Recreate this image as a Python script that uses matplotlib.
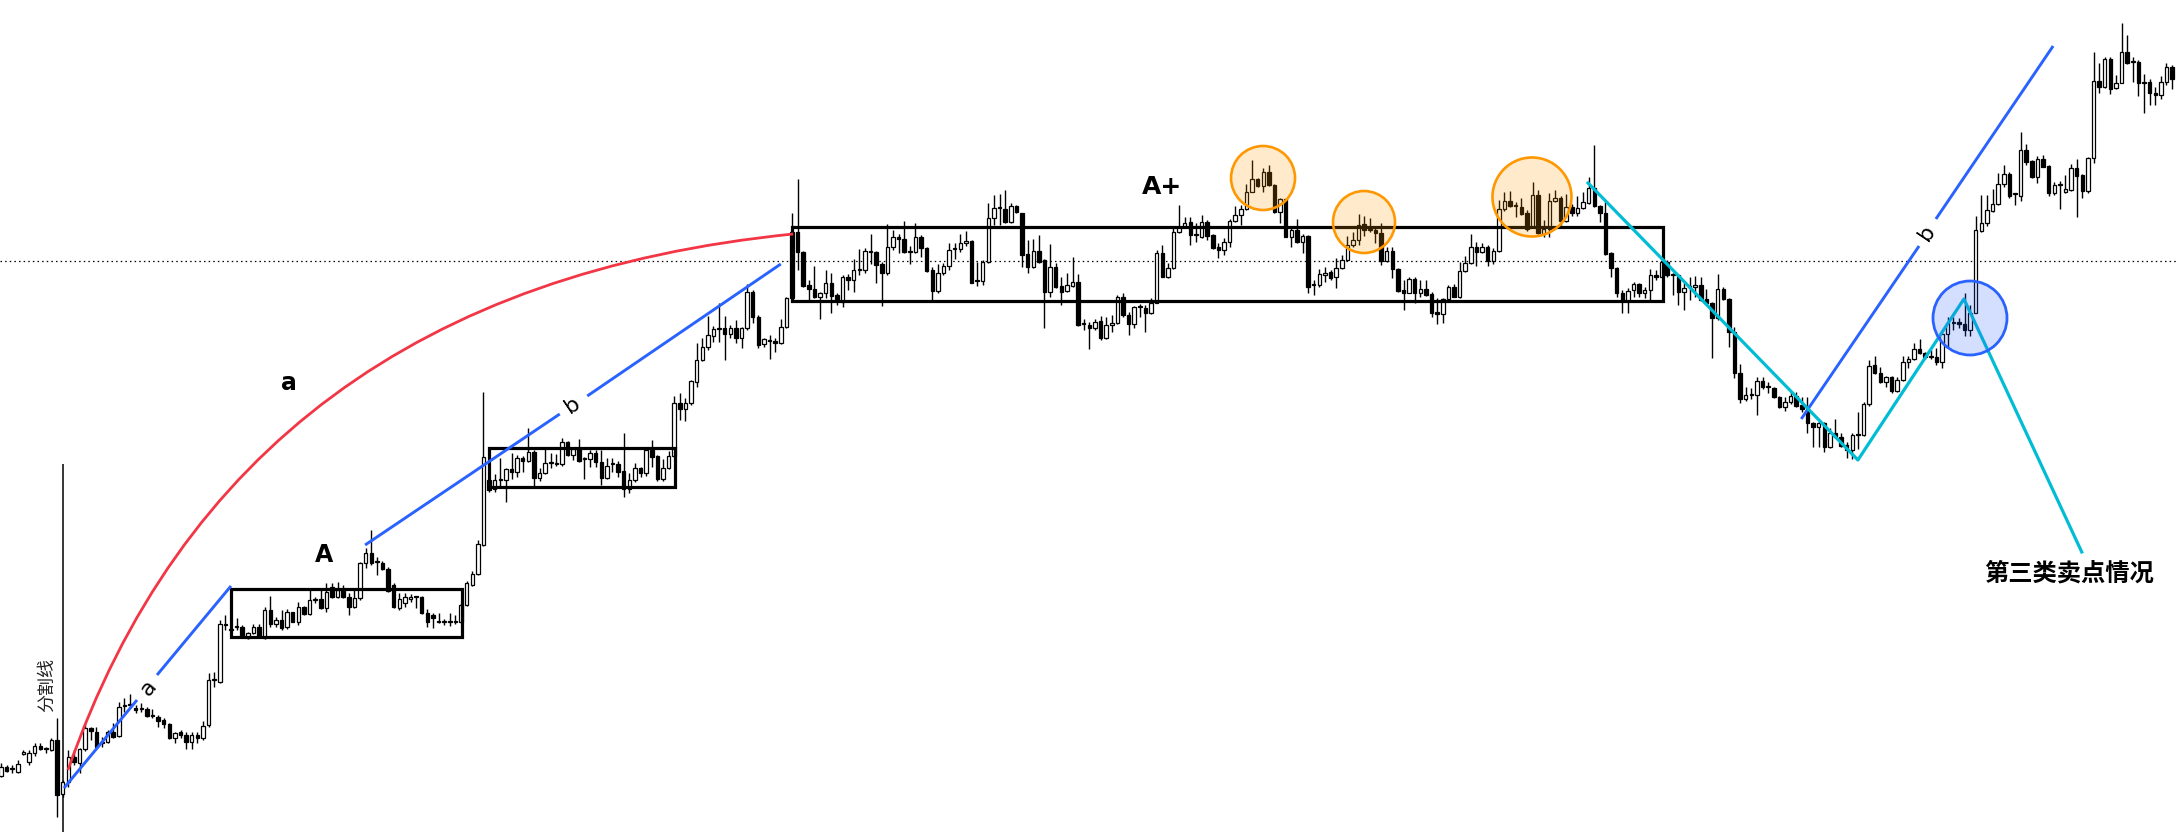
import numpy as np
import matplotlib
matplotlib.use("Agg")
import matplotlib.pyplot as plt
from matplotlib.patches import Rectangle, Ellipse, PathPatch
from matplotlib.path import Path

# candle data (arbitrary price units), one entry per bar
opens = [124,133,131,128,146,138,147,154,151,150, 160,106,118,143,137,151,172,168,157,158,
         168,164,194,195,192,191,191,184,183,180, 176,162,168,165,158,165,162,175,220,218,
         275,270,273,273,262,267,273,262,290,276, 280,273,288,278,293,286,300,301,292,313,
         303,310,303,293,302,337,347,338,337,331, 315,292,297,301,303,303,287,285,278,278,
         278,278,278,295,315,326,355,420,411,420, 420,431,428,442,439,448,422,427,437,436,
         436,458,445,451,441,441,447,438,422,436, 436,429,411,420,432,427,450,444,421,432,
         444,497,491,497,518,540,553,564,571,572, 566,572,562,572,608,583,556,559,559,557,
         573,602,668,648,615,611,603,607,617,605, 598,623,620,630,630,648,648,636,627,653,
         663,661,648,648,663,652,630,609,627,634, 651,651,657,659,619,619,638,682,692,691,
         678,694,687,646,633,649,640,608,633,614, 609,614,618,576,575,572,579,562,575,577,
         603,585,576,593,592,587,597,647,623,632, 668,673,678,665,663,678,665,653,650,658,
         679,685,691,708,721,714,728,715,688,701, 663,670,658,664,615,615,625,628,623,632,
         640,655,660,676,670,670,667,639,649,631, 610,607,621,607,611,606,588,586,601,613,
         603,629,637,653,648,653,639,649,691,699, 694,693,687,673,705,666,671,699,702,679,
         693,687,692,697,712,694,687,647,632,607, 599,610,616,607,610,625,623,638,625,625,
         608,613,613,615,601,597,582,611,601,568, 527,501,505,505,519,513,512,503,493,498,
         504,495,491,477,473,477,453,467,463,455, 450,465,465,496,535,527,518,523,509,520,
         538,541,551,547,543,543,538,566,577,578, 576,570,587,669,677,689,696,716,726,706,
         704,750,739,723,741,734,707,715,708,710, 732,725,709,742,819,813,841,812,817,848,
         838,838,817,818,807,805,818,833]
highs = [137,135,135,140,150,150,157,157,153,162, 182,120,150,150,152,177,173,173,163,170,
         177,198,202,206,195,197,193,191,185,182, 177,168,170,168,168,168,179,227,228,280,
         285,275,282,275,268,276,276,293,304,283, 290,291,288,298,294,310,303,310,317,317,
         318,315,307,310,338,352,370,343,339,333, 317,307,307,306,304,304,291,287,287,281,
         287,285,297,319,329,360,508,422,426,442, 432,447,445,444,472,450,432,451,447,446,
         462,459,452,461,443,450,450,450,442,442, 439,467,427,437,433,452,460,445,441,449,
         504,507,502,520,557,562,584,574,597,584, 575,580,573,616,610,585,562,565,562,581,
         603,687,721,649,620,634,608,630,627,607, 625,626,641,651,652,666,649,638,676,670,
         666,679,654,677,665,653,633,636,637,657, 657,666,669,660,638,640,697,705,706,710,
         697,695,687,660,661,665,641,656,637,623, 627,643,626,581,578,581,584,583,585,605,
         607,588,594,596,595,602,650,655,637,672, 695,683,683,677,685,680,666,657,662,681,
         694,695,716,740,722,732,735,716,702,702, 673,681,666,665,620,631,633,630,642,645,
         664,668,686,684,682,674,677,653,653,632, 620,623,623,620,620,608,602,602,615,616,
         638,644,666,658,657,655,652,700,708,709, 698,702,690,718,710,680,707,710,704,706,
         696,704,708,723,755,695,698,648,633,610, 612,618,617,613,631,630,639,640,627,626,
         617,623,624,623,611,598,626,613,602,573, 536,513,512,523,523,518,513,504,503,508,
         508,503,503,478,480,478,472,481,467,458, 467,488,498,540,544,533,524,524,523,544,
         544,557,561,548,550,552,567,583,583,582, 607,595,684,705,705,711,727,735,728,707,
         768,756,740,744,745,735,718,719,725,736, 741,726,743,848,837,843,843,825,877,865,
         843,840,826,821,813,824,837,835]
lows = [123,128,127,127,145,135,144,150,147,149, 83,103,113,135,127,149,160,153,153,157,
        162,163,188,193,187,188,183,182,173,172, 161,157,162,151,151,157,160,173,213,217,
        270,267,270,263,261,266,262,261,273,273, 270,271,278,275,285,285,297,291,288,302,
        302,302,285,292,300,332,335,325,330,308, 292,290,293,298,292,286,273,272,277,275,
        274,276,277,294,314,325,354,408,408,414, 398,421,423,428,438,412,419,426,432,434,
        434,444,440,438,421,433,433,415,421,428, 423,403,407,418,423,424,433,419,419,431,
        443,480,479,495,513,539,550,558,558,540, 562,557,552,570,577,552,553,541,548,556,
        572,601,630,613,600,602,581,602,587,595, 593,610,608,625,627,636,617,594,625,650,
        647,647,636,647,643,628,600,607,625,630, 641,648,654,617,614,615,637,675,675,677,
        677,687,633,627,632,637,572,603,612,595, 608,613,574,570,551,570,560,561,568,576,
        583,565,572,583,568,586,597,623,622,631, 667,673,655,658,662,660,651,642,645,653,
        678,675,690,708,713,708,714,687,677,663, 653,657,647,607,605,613,618,620,612,631,
        639,653,655,664,668,657,635,638,622,608, 590,607,597,603,604,583,576,577,599,603,
        602,628,636,634,647,634,636,648,689,693, 683,685,669,673,666,663,663,698,675,678,
        684,684,691,696,693,678,645,623,603,587, 587,603,603,602,600,620,623,623,605,595,
        590,600,603,599,595,542,580,600,553,522, 497,499,501,485,511,507,502,492,489,496,
        493,488,467,453,453,448,452,462,453,442, 441,451,464,494,526,517,513,507,508,519,
        532,540,546,541,541,535,532,553,570,572, 564,564,587,668,674,688,695,713,702,695,
        699,735,722,717,733,704,705,691,707,709, 683,702,707,737,807,812,806,811,817,836,
        818,804,787,795,795,801,815,811]
closes = [133,129,131,136,148,147,154,151,151,160, 105,118,143,138,151,172,169,153,157,168,
          163,193,194,195,190,191,184,184,179,176, 162,167,165,158,165,162,174,220,220,276,
          275,270,273,264,267,273,263,290,276,280, 272,288,278,293,286,300,300,292,308,303,
          310,303,293,302,337,347,337,338,331,309, 293,301,303,303,303,287,278,282,278,278,
          278,278,295,317,326,356,443,410,420,420, 431,428,442,439,448,422,427,437,437,436,
          458,445,451,439,441,447,438,422,434,436, 428,411,420,432,427,450,443,421,432,444,
          497,491,497,519,540,553,565,571,571,566, 572,562,572,608,583,555,561,559,557,573,
          602,668,648,614,611,603,607,617,604,600, 623,620,630,630,649,648,635,627,653,663,
          661,648,648,663,652,629,609,627,634,650, 651,657,659,617,619,638,682,692,692,678,
          694,688,645,633,649,638,608,633,613,608, 615,618,575,576,572,578,562,575,577,603,
          585,576,593,593,587,597,647,623,632,668, 673,677,665,665,678,664,652,650,658,679,
          685,691,708,721,714,728,715,688,701,663, 670,658,664,613,615,626,627,622,632,640,
          655,660,675,670,670,667,639,649,631,609, 607,621,607,611,605,587,586,601,613,603,
          629,637,653,648,653,639,649,691,699,694, 694,686,671,705,667,671,699,702,679,693,
          687,692,698,712,694,687,646,632,607,599, 609,616,607,610,625,623,638,625,625,608,
          612,613,615,600,597,582,611,601,568,527, 501,505,505,519,513,513,503,493,498,504,
          494,491,477,473,477,453,467,463,454,450, 465,465,496,534,527,518,523,509,520,538,
          541,551,547,543,543,538,566,577,577,576, 570,587,670,677,690,696,716,726,704,706,
          750,738,723,741,733,707,715,715,711,732, 724,709,742,819,813,841,811,817,848,837,
          838,817,817,807,805,818,833,821]

PX = 5.61  # pixels per bar at the chosen size

fig = plt.figure(figsize=(21.76, 8.32), dpi=100)
ax = fig.add_axes([0, 0, 1, 1])
ax.set_xlim(-0.18, 387.7)
ax.set_ylim(68, 900)
ax.axis("off")

o = np.array(opens); h = np.array(highs); l = np.array(lows); c = np.array(closes)
idx = np.arange(len(o))
up = c >= o
ax.vlines(idx, l, h, color="black", lw=1.0, zorder=2)
body = np.maximum(np.abs(c - o), 0.8)
ax.bar(idx, body, bottom=np.minimum(o, c), width=0.62,
       color=np.where(up, "white", "black"), edgecolor="black", linewidth=0.9, zorder=3)

# dotted price line and the split line
ax.axhline(639, color="black", lw=0.9, ls=(0, (1.2, 2.5)), zorder=1)
ax.vlines(11.05, 68, 436, color="black", lw=1.1, zorder=1)
ax.text(8.2, 215, "分割线", rotation=90, ha="center", va="center", fontsize=13,
        color="#222222", family=["Noto Sans CJK SC", "DejaVu Sans"])

# consolidation boxes
for x0, x1, y0, y1 in [(41.0, 82.2, 263, 311), (87.0, 120.1, 413, 452), (141.0, 296.2, 599, 673)]:
    ax.add_patch(Rectangle((x0, y0), x1 - x0, y1 - y0, fill=False, ec="black", lw=2.3, zorder=4))

# red arc
arc = Path([(11.94, 130), (41.7, 610), (141.2, 666)], [Path.MOVETO, Path.CURVE3, Path.CURVE3])
ax.add_patch(PathPatch(arc, fill=False, ec="#F23645", lw=2.0, zorder=5))

blue = "#2962FF"
cyan = "#00BCD4"
# blue trend lines with labels in gaps
for seg in [((11.23, 112), (24.24, 200)), ((27.81, 225), (40.99, 314)),
            ((64.9, 355), (99.6, 486)), ((104.5, 504), (139.0, 636)),
            ((320.9, 481), (341.9, 654)), ((344.9, 681), (365.8, 854))]:
    ax.plot([seg[0][0], seg[1][0]], [seg[0][1], seg[1][1]], color=blue, lw=2.1,
            solid_capstyle="butt", zorder=5)
lab = dict(ha="center", va="center", fontsize=16, color="black", rotation_mode="anchor", zorder=6)
ax.text(26.2, 212, "a", rotation=50, **lab)
ax.text(101.8, 495, "b", rotation=34, **lab)
ax.text(343.3, 667, "b", rotation=56, **lab)

# cyan zigzag
ax.plot([282.9, 331.0, 349.9, 370.9], [717, 440, 601, 348], color=cyan, lw=2.3, zorder=5)

# highlight circles (radius given in pixels)
for x, y, r in [(224.96, 722, 32), (242.96, 678, 31), (272.9, 703, 39.5)]:
    ax.add_patch(Ellipse((x, y), 2 * r / PX, 2 * r, fc=(1, 0.6, 0, 0.2), ec="#FF9800", lw=1.9, zorder=6))
ax.add_patch(Ellipse((350.98, 582), 2 * 37 / PX, 74, fc=(0.16, 0.38, 1, 0.2), ec=blue, lw=2.0, zorder=6))

big = dict(ha="center", va="center", color="black", fontweight="semibold", zorder=7)
ax.text(51.3, 517, "a", fontsize=17, **big)
ax.text(57.6, 345, "A", fontsize=17, **big)
ax.text(207.0, 713, "A+", fontsize=18, **big)
ax.text(368.6, 327, "第三类卖点情况", fontsize=17.5, ha="center", va="center", color="black",
        fontweight="bold", family=["Noto Sans CJK SC", "DejaVu Sans"], zorder=7)

fig.savefig("out.png", dpi=100)
